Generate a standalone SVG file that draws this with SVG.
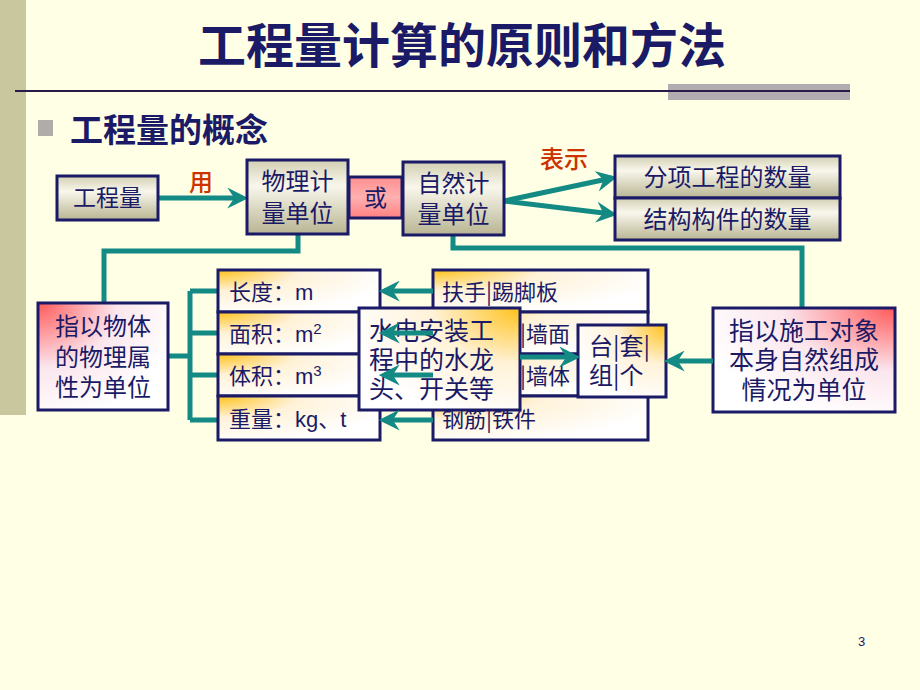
<svg xmlns="http://www.w3.org/2000/svg" width="920" height="690" viewBox="0 0 920 690">
<defs>
<style>
.t{font-family:"Noto Sans CJK SC","Liberation Sans",sans-serif;fill:#1a1a66}
.bx{stroke:#1a1a66;stroke-width:3}
.ln{fill:none;stroke:#138a83;stroke-width:5}
.ar{fill:none;stroke:#138a83;stroke-width:5;marker-end:url(#ah)}
.lab{font-family:"Noto Sans CJK SC","Liberation Sans",sans-serif;fill:#cc3300;font-size:24px;font-weight:500}
</style>
<marker id="ah" viewBox="0 0 12 12" refX="9" refY="6" markerWidth="4.2" markerHeight="4.2" orient="auto" markerUnits="strokeWidth">
<path d="M0,0 L12,6 L0,12 L4,6 z" fill="#138a83"/>
</marker>
<linearGradient id="gray" x1="0" y1="0" x2="0" y2="1">
<stop offset="0" stop-color="#d2cfb2"/><stop offset="0.35" stop-color="#f9f7ec"/><stop offset="1" stop-color="#b8b492"/>
</linearGradient>
<linearGradient id="pinkor" x1="0" y1="0" x2="0" y2="1">
<stop offset="0" stop-color="#ff8f8f"/><stop offset="0.5" stop-color="#ffb0b0"/><stop offset="1" stop-color="#ff8080"/>
</linearGradient>
<radialGradient id="orTL" cx="0" cy="0" r="1.1">
<stop offset="0" stop-color="#ffc21a"/><stop offset="0.45" stop-color="#fff2d8"/><stop offset="1" stop-color="#ffffff"/>
</radialGradient>
<radialGradient id="orTR" cx="1" cy="0" r="1.1">
<stop offset="0" stop-color="#ffc21a"/><stop offset="0.5" stop-color="#fff2d8"/><stop offset="1" stop-color="#ffffff"/>
</radialGradient>
<radialGradient id="pkTL" cx="0" cy="0" r="1.1">
<stop offset="0" stop-color="#ff5a5a"/><stop offset="0.55" stop-color="#fbe6ee"/><stop offset="1" stop-color="#ffffff"/>
</radialGradient>
<radialGradient id="pkTR" cx="1" cy="0" r="1.1">
<stop offset="0" stop-color="#ff5a5a"/><stop offset="0.55" stop-color="#fbe6ee"/><stop offset="1" stop-color="#ffffff"/>
</radialGradient>
</defs>

<rect x="0" y="0" width="920" height="690" fill="#ffffe6"/>
<rect x="0" y="0" width="26" height="415" fill="#c9c79d"/>

<text class="t" x="462" y="63" text-anchor="middle" font-size="48" font-weight="bold" fill="#000066">工程量计算的原则和方法</text>
<rect x="668" y="84" width="182" height="16" fill="#b0acb0"/>
<line x1="15" y1="91" x2="850" y2="91" stroke="#2a1a4a" stroke-width="2"/>
<rect x="38" y="120" width="15" height="16" fill="#b0acac"/>
<text class="t" x="70" y="142" font-size="33" font-weight="bold" fill="#000066">工程量的概念</text>

<g id="connectors">
<line class="ar" x1="158" y1="198" x2="243" y2="198"/>
<path class="ar" d="M504,201 L612,178"/>
<path class="ar" d="M504,201 L612,214"/>
<path class="ln" d="M298,234 V251 H104 V303"/>
<path class="ln" d="M453,235 V248 H802 V308"/>
<path class="ln" d="M168,356 H190 M190,291 V420 M190,291 H218 M190,333 H218 M190,375 H218 M190,420 H218"/>
</g>

<g id="n-gcl"><rect class="bx" x="57" y="176" width="101" height="44" fill="url(#gray)"/>
<text class="t" x="107.5" y="206" font-size="23" text-anchor="middle">工程量</text></g>
<text class="lab" x="189" y="191">用</text>

<g id="n-wuli"><rect class="bx" x="247" y="160" width="101" height="74" fill="url(#gray)"/>
<text class="t" x="297.5" y="190" font-size="24" text-anchor="middle">物理计</text>
<text class="t" x="297.5" y="222" font-size="24" text-anchor="middle">量单位</text></g>

<g id="n-huo"><rect class="bx" x="349" y="177" width="53" height="41" fill="url(#pinkor)"/>
<text class="t" x="375.5" y="206" font-size="23" text-anchor="middle">或</text></g>

<g id="n-ziran"><rect class="bx" x="403" y="162" width="101" height="73" fill="url(#gray)"/>
<text class="t" x="453.5" y="192" font-size="24" text-anchor="middle">自然计</text>
<text class="t" x="453.5" y="223" font-size="24" text-anchor="middle">量单位</text></g>
<text class="lab" x="540" y="168">表示</text>

<g id="n-fx"><rect class="bx" x="615" y="156" width="225" height="42" fill="url(#gray)"/>
<text class="t" x="727.5" y="186" font-size="24" text-anchor="middle">分项工程的数量</text></g>
<g id="n-jg"><rect class="bx" x="615" y="198" width="225" height="42" fill="url(#gray)"/>
<text class="t" x="727.5" y="228" font-size="24" text-anchor="middle">结构构件的数量</text></g>

<g id="n-wuti"><rect class="bx" x="38" y="303" width="130" height="107" fill="url(#pkTL)"/>
<text class="t" x="103" y="335" font-size="24" text-anchor="middle">指以物体</text>
<text class="t" x="103" y="366" font-size="24" text-anchor="middle">的物理属</text>
<text class="t" x="103" y="396" font-size="24" text-anchor="middle">性为单位</text></g>

<g id="n-len"><rect class="bx" x="218" y="270" width="162" height="42" fill="url(#orTL)"/>
<text class="t" x="229" y="300" font-size="22">长度：<tspan font-family="Liberation Sans,sans-serif">m</tspan></text></g>
<g id="n-area"><rect class="bx" x="218" y="312" width="162" height="42" fill="url(#orTL)"/>
<text class="t" x="229" y="342" font-size="22">面积：<tspan font-family="Liberation Sans,sans-serif">m</tspan><tspan font-family="Liberation Sans,sans-serif" font-size="15" dy="-8">2</tspan></text></g>
<g id="n-vol"><rect class="bx" x="218" y="354" width="162" height="42" fill="url(#orTL)"/>
<text class="t" x="229" y="384" font-size="22">体积：<tspan font-family="Liberation Sans,sans-serif">m</tspan><tspan font-family="Liberation Sans,sans-serif" font-size="15" dy="-8">3</tspan></text></g>
<g id="n-wt"><rect class="bx" x="218" y="396" width="162" height="44" fill="url(#orTL)"/>
<text class="t" x="229" y="427" font-size="22">重量：<tspan font-family="Liberation Sans,sans-serif">kg</tspan>、<tspan font-family="Liberation Sans,sans-serif">t</tspan></text></g>

<g id="n-r1"><rect class="bx" x="433" y="270" width="215" height="42" fill="url(#orTL)"/>
<text class="t" x="442" y="300" font-size="22">扶手|踢脚板</text></g>
<g id="n-r2"><rect class="bx" x="433" y="312" width="215" height="42" fill="url(#orTL)"/>
<text class="t" x="520" y="342" font-size="22">|墙面</text></g>
<g id="n-r3"><rect class="bx" x="433" y="354" width="215" height="42" fill="url(#orTL)"/>
<text class="t" x="520" y="384" font-size="22">|墙体</text></g>
<g id="n-r4"><rect class="bx" x="433" y="396" width="215" height="44" fill="url(#orTL)"/>
<text class="t" x="442" y="427" font-size="22">钢筋|铁件</text></g>

<g id="n-sd"><rect class="bx" x="359" y="308" width="161" height="102" fill="url(#orTR)"/>
<text class="t" x="369" y="340" font-size="25">水电安装工</text>
<text class="t" x="369" y="369" font-size="25">程中的水龙</text>
<text class="t" x="369" y="398" font-size="25">头、开关等</text></g>

<g id="n-tt"><rect class="bx" x="578" y="325" width="88" height="72" fill="url(#orTR)"/>
<text class="t" x="589" y="355" font-size="24">台|套|</text>
<text class="t" x="589" y="384" font-size="24">组|个</text></g>

<g id="n-sg"><rect class="bx" x="713" y="308" width="182" height="104" fill="url(#pkTR)"/>
<text class="t" x="804" y="340" font-size="25" text-anchor="middle">指以施工对象</text>
<text class="t" x="804" y="369" font-size="25" text-anchor="middle">本身自然组成</text>
<text class="t" x="804" y="399" font-size="25" text-anchor="middle">情况为单位</text></g>

<g id="connectors-top">
<line class="ar" x1="433" y1="291" x2="384" y2="291"/>
<line class="ar" x1="433" y1="333" x2="384" y2="333"/>
<line class="ar" x1="433" y1="375" x2="384" y2="375"/>
<line class="ar" x1="433" y1="420" x2="384" y2="420"/>
<line class="ar" x1="520" y1="357" x2="575" y2="357"/>
<line class="ar" x1="713" y1="361" x2="669" y2="361"/>
</g>

<text x="858" y="646" font-family="Liberation Sans,sans-serif" font-size="13" fill="#1a1a66">3</text>
</svg>
